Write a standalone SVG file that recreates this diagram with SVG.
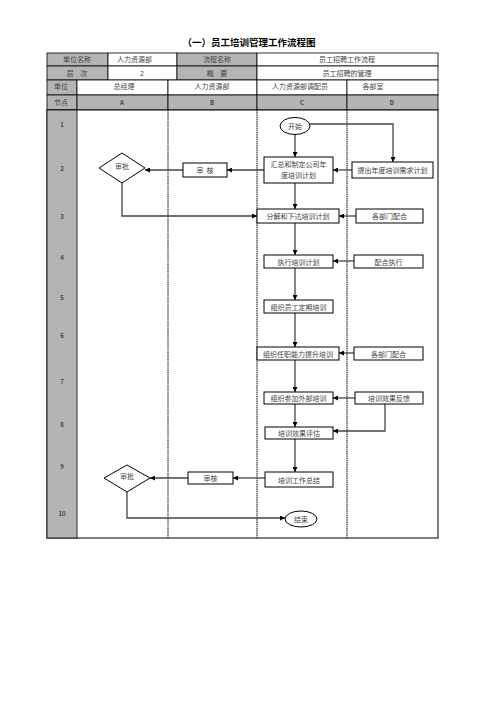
<svg xmlns="http://www.w3.org/2000/svg" width="496" height="702" viewBox="0 0 496 702">
<style>
text{font-family:"Noto Sans CJK SC","Liberation Serif",serif;font-size:7px;fill:#444;}
.t{text-anchor:middle;dominant-baseline:central;}
.title{font-size:9.5px;font-weight:bold;fill:#000;}
.g{fill:#b4b4b4;stroke:#000;stroke-width:0.8;}
.w{fill:#fff;stroke:#000;stroke-width:0.8;}
.box{fill:#fff;stroke:#000;stroke-width:1;}
.lane{stroke:#000;stroke-width:1;stroke-dasharray:1.5,0.7;fill:none;}
.c{fill:none;stroke:#444;stroke-width:1.3;marker-end:url(#ah);}
.n{font-size:6px;font-weight:bold;}
</style>
<defs>
<marker id="ah" viewBox="0 0 6 6" refX="6" refY="3" markerWidth="5" markerHeight="5" markerUnits="userSpaceOnUse" orient="auto">
<path d="M0,0 L6,3 L0,6 z" fill="#000"/>
</marker>
</defs>
<rect width="496" height="702" fill="#fff"/>
<text class="t title" x="249" y="42">（一）员工培训管理工作流程图</text>
<g id="header">
<rect class="g" x="47" y="53" width="61" height="13"/>
<rect class="w" x="108" y="53" width="69" height="13"/>
<rect class="g" x="177" y="53" width="80" height="13"/>
<rect class="w" x="257" y="53" width="181" height="13"/>
<rect class="g" x="47" y="66" width="61" height="14"/>
<rect class="w" x="108" y="66" width="69" height="14"/>
<rect class="g" x="177" y="66" width="80" height="14"/>
<rect class="w" x="257" y="66" width="181" height="14"/>
<rect class="g" x="47" y="80" width="30" height="15"/>
<rect class="w" x="77" y="80" width="91" height="15"/>
<rect class="w" x="168" y="80" width="89" height="15"/>
<rect class="w" x="257" y="80" width="90" height="15"/>
<rect class="w" x="347" y="80" width="91" height="15"/>
<rect class="g" x="47" y="95" width="30" height="15"/>
<rect class="g" x="77" y="95" width="91" height="15"/>
<rect class="g" x="168" y="95" width="89" height="15"/>
<rect class="g" x="257" y="95" width="90" height="15"/>
<rect class="g" x="347" y="95" width="91" height="15"/>
<text class="t" x="77" y="59">单位名称</text>
<text x="117" y="59" dominant-baseline="central">人力资源部</text>
<text class="t" x="217" y="59">流程名称</text>
<text class="t" x="347" y="59">员工招聘工作流程</text>
<text class="t" x="77" y="73" xml:space="preserve">层    次</text>
<text class="t" x="142" y="73">2</text>
<text class="t" x="217" y="73" xml:space="preserve">概    要</text>
<text class="t" x="347" y="73">员工招聘的管理</text>
<text class="t" x="61" y="86">单位</text>
<text class="t" x="124" y="86">总经理</text>
<text class="t" x="212" y="86">人力资源部</text>
<text class="t" x="300" y="86">人力资源部调配员</text>
<text class="t" x="373" y="86">各部室</text>
<text class="t" x="61" y="102">节点</text>
<text class="t n" x="122" y="102">A</text>
<text class="t n" x="212" y="102">B</text>
<text class="t n" x="302" y="102">C</text>
<text class="t n" x="392" y="102">D</text>
</g>
<g id="body">
<rect x="47" y="110" width="391" height="428" fill="#fff" stroke="#000" stroke-width="1"/>
<rect x="47" y="110" width="30" height="428" fill="#b4b4b4" stroke="#000" stroke-width="0.8"/>
<line class="lane" x1="168" y1="110" x2="168" y2="538"/>
<line class="lane" x1="257" y1="110" x2="257" y2="538"/>
<line class="lane" x1="347" y1="110" x2="347" y2="538"/>
<text class="t n" x="62" y="124">1</text>
<text class="t n" x="62" y="168">2</text>
<text class="t n" x="62" y="216">3</text>
<text class="t n" x="62" y="257">4</text>
<text class="t n" x="62" y="297">5</text>
<text class="t n" x="62" y="335">6</text>
<text class="t n" x="62" y="381">7</text>
<text class="t n" x="62" y="424">8</text>
<text class="t n" x="62" y="466">9</text>
<text class="t n" x="62" y="513">10</text>
</g>
<g id="connectors">
<path class="c" d="M295,135 V157"/>
<path class="c" d="M310,124 H393 V162"/>
<path class="c" d="M352,170 H333"/>
<path class="c" d="M264,170 H227"/>
<path class="c" d="M183,170 H145"/>
<path class="c" d="M122,183 V216 H257"/>
<path class="c" d="M295,183 V209"/>
<path class="c" d="M356,216 H339"/>
<path class="c" d="M295,223 V255"/>
<path class="c" d="M354,261 H333"/>
<path class="c" d="M295,268 V300"/>
<path class="c" d="M295,313 V347"/>
<path class="c" d="M354,353 H339"/>
<path class="c" d="M295,360 V392"/>
<path class="c" d="M355,398 H333"/>
<path class="c" d="M385,404 V431 H333"/>
<path class="c" d="M295,404 V427"/>
<path class="c" d="M295,439 V472"/>
<path class="c" d="M265,478 H233"/>
<path class="c" d="M188,478 H150"/>
<path class="c" d="M127,492 V518 H285"/>
</g>
<g id="n_start"><ellipse class="box" cx="295" cy="126" rx="15" ry="8.5"/><text class="t" x="295" y="126">开始</text></g>
<g id="n_summary"><rect class="box" x="264" y="157" width="69" height="26"/><text class="t" x="298.5" y="164">汇总和制定公司年</text><text class="t" x="298.5" y="175">度培训计划</text></g>
<g id="n_demand"><rect class="box" x="352" y="162" width="81" height="16"/><text class="t" x="392.5" y="170">提出年度培训需求计划</text></g>
<g id="n_review1"><rect class="box" x="183" y="163" width="44" height="14"/><text class="t" x="205" y="170" xml:space="preserve">审  核</text></g>
<g id="n_approve1"><polygon class="box" points="99,168 122,153 145,168 122,183"/><text class="t" x="122" y="166">审批</text></g>
<g id="n_decompose"><rect class="box" x="257" y="209" width="82" height="14"/><text class="t" x="298" y="216">分解和下达培训计划</text></g>
<g id="n_coop1"><rect class="box" x="356" y="209" width="67" height="14"/><text class="t" x="389.5" y="216">各部门配合</text></g>
<g id="n_execute"><rect class="box" x="264" y="255" width="69" height="13"/><text class="t" x="298.5" y="261.5">执行培训计划</text></g>
<g id="n_coop2"><rect class="box" x="354" y="255" width="69" height="13"/><text class="t" x="388.5" y="261.5">配合执行</text></g>
<g id="n_regular"><rect class="box" x="264" y="300" width="69" height="13"/><text class="t" x="298.5" y="306.5">组织员工定期培训</text></g>
<g id="n_ability"><rect class="box" x="257" y="347" width="82" height="13"/><text class="t" x="298" y="353.5">组织任职能力提升培训</text></g>
<g id="n_coop3"><rect class="box" x="354" y="347" width="69" height="13"/><text class="t" x="388.5" y="353.5">各部门配合</text></g>
<g id="n_external"><rect class="box" x="264" y="392" width="69" height="12"/><text class="t" x="298.5" y="398">组织参加外部培训</text></g>
<g id="n_feedback"><rect class="box" x="355" y="392" width="68" height="12"/><text class="t" x="389" y="398">培训效果反馈</text></g>
<g id="n_evaluate"><rect class="box" x="265" y="427" width="68" height="12"/><text class="t" x="299" y="433">培训效果评估</text></g>
<g id="n_summary2"><rect class="box" x="265" y="472" width="68" height="15"/><text class="t" x="299" y="479.5">培训工作总结</text></g>
<g id="n_review2"><rect class="box" x="188" y="472" width="45" height="12"/><text class="t" x="210.5" y="478">审核</text></g>
<g id="n_approve2"><polygon class="box" points="104,478 127,465 150,478 127,492"/><text class="t" x="127" y="476">审批</text></g>
<g id="n_end"><ellipse class="box" cx="301" cy="519" rx="16" ry="8"/><text class="t" x="301" y="519">结束</text></g>
</svg>
